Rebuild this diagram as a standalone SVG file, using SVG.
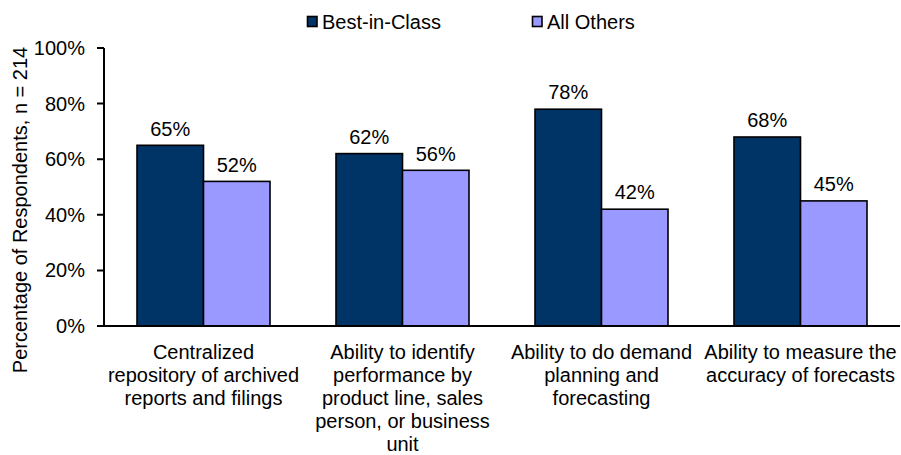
<svg xmlns="http://www.w3.org/2000/svg" width="901" height="455" viewBox="0 0 901 455">
<style>
text{font-family:"Liberation Sans",Arial,sans-serif;font-size:20px;fill:#000}
.c{text-anchor:middle}
.e{text-anchor:end}
.bic{fill:#003366;stroke:#000;stroke-width:1.6}
.ao{fill:#9999FF;stroke:#000;stroke-width:1.6}
.ax{stroke:#000;stroke-width:2;fill:none}
</style>
<rect width="901" height="455" fill="#fff"/>
<g id="legend">
<rect class="bic" x="307.5" y="16.5" width="9.5" height="10"/>
<text x="322" y="29">Best-in-Class</text>
<rect class="ao" x="532.5" y="16.5" width="9.5" height="10"/>
<text x="547" y="29">All Others</text>
</g>
<g id="y-axis">
<text transform="translate(27,210) rotate(-90)" class="c">Percentage of Respondents, n = 214</text>
<path class="ax" d="M104,48V326M97,48H104M97,103.6H104M97,159.2H104M97,214.8H104M97,270.4H104"/>
<text class="e" x="85" y="55">100%</text>
<text class="e" x="85" y="110.6">80%</text>
<text class="e" x="85" y="166.2">60%</text>
<text class="e" x="85" y="221.8">40%</text>
<text class="e" x="85" y="277.4">20%</text>
<text class="e" x="85" y="333">0%</text>
</g>
<g id="group1">
<rect class="bic" x="137" y="145.3" width="66.5" height="180.7"/>
<rect class="ao" x="203.5" y="181.4" width="66.5" height="144.6"/>
<text class="c" x="170.2" y="135.5">65%</text>
<text class="c" x="236.7" y="171.6">52%</text>
<text class="c" x="203.5" y="358.5">Centralized</text>
<text class="c" x="203.5" y="381.8">repository of archived</text>
<text class="c" x="203.5" y="405.1">reports and filings</text>
</g>
<g id="group2">
<rect class="bic" x="336" y="153.6" width="66.5" height="172.4"/>
<rect class="ao" x="402.5" y="170.3" width="66.5" height="155.7"/>
<text class="c" x="369.2" y="143.8">62%</text>
<text class="c" x="435.7" y="160.5">56%</text>
<text class="c" x="402.5" y="358.5">Ability to identify</text>
<text class="c" x="402.5" y="381.8">performance by</text>
<text class="c" x="402.5" y="405.1">product line, sales</text>
<text class="c" x="402.5" y="428.4">person, or business</text>
<text class="c" x="402.5" y="451">unit</text>
</g>
<g id="group3">
<rect class="bic" x="535" y="109.2" width="66.5" height="216.8"/>
<rect class="ao" x="601.5" y="209.2" width="66.5" height="116.8"/>
<text class="c" x="568.2" y="99.4">78%</text>
<text class="c" x="634.7" y="199.4">42%</text>
<text class="c" x="601.5" y="358.5">Ability to do demand</text>
<text class="c" x="601.5" y="381.8">planning and</text>
<text class="c" x="601.5" y="405.1">forecasting</text>
</g>
<g id="group4">
<rect class="bic" x="734" y="137" width="66.5" height="189"/>
<rect class="ao" x="800.5" y="200.9" width="66.5" height="125.1"/>
<text class="c" x="767.2" y="127.2">68%</text>
<text class="c" x="833.7" y="191.1">45%</text>
<text class="c" x="800.5" y="358.5">Ability to measure the</text>
<text class="c" x="800.5" y="381.8">accuracy of forecasts</text>
</g>
<g id="x-axis">
<path class="ax" d="M97,326H900"/>
</g>
</svg>
